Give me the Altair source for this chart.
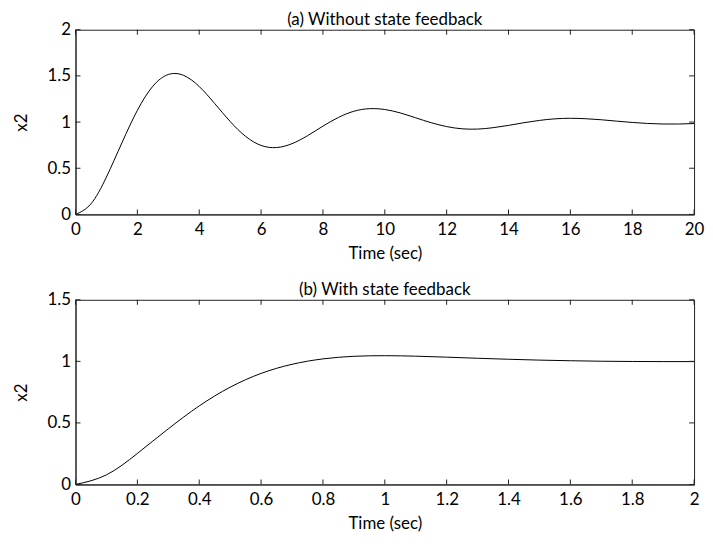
import altair as alt
import pandas as pd

FONT = "Lato"
FS = 17
W, H = 623, 186

# (a) Without state feedback
t_a = [0, 0.5, 1, 1.5, 2, 2.5, 3, 3.5, 4, 4.5, 5, 5.5, 6, 6.5, 7, 7.5, 8, 8.5, 9, 9.5, 10,
       10.5, 11, 11.5, 12, 12.5, 13, 13.5, 14, 14.5, 15, 15.5, 16, 16.5, 17, 17.5, 18, 18.5, 19, 19.5, 20]
x2_a = [0.000, 0.115, 0.405, 0.775, 1.127, 1.388, 1.515, 1.505, 1.385, 1.201, 1.006,
        0.845, 0.747, 0.724, 0.766, 0.852, 0.956, 1.050, 1.117, 1.145, 1.136,
        1.099, 1.046, 0.993, 0.951, 0.927, 0.924, 0.939, 0.964, 0.993, 1.018,
        1.035, 1.041, 1.036, 1.025, 1.010, 0.996, 0.985, 0.979, 0.979, 0.984]
xticks_a = [0, 2, 4, 6, 8, 10, 12, 14, 16, 18, 20]
yticks_a = [0, 0.5, 1, 1.5, 2]

# (b) With state feedback
t_b = [0, 0.1, 0.2, 0.3, 0.4, 0.5, 0.6, 0.7, 0.8, 0.9, 1.0, 1.1, 1.2, 1.3, 1.4, 1.5, 1.6, 1.7, 1.8, 1.9, 2.0]
x2_b = [0.000, 0.078, 0.252, 0.452, 0.638, 0.790, 0.902, 0.976, 1.020, 1.041, 1.046,
        1.042, 1.034, 1.025, 1.017, 1.010, 1.005, 1.001, 0.999, 0.998, 0.998]
xticks_b = [0, 0.2, 0.4, 0.6, 0.8, 1, 1.2, 1.4, 1.6, 1.8, 2]
yticks_b = [0, 0.5, 1, 1.5]

TICK = 5
INK = "#222222"


def panel(t, x, xticks, yticks, title):
    df = pd.DataFrame({"t": t, "x2": x})
    xt = pd.DataFrame({"t": xticks})
    yt = pd.DataFrame({"x2": yticks})
    xs = alt.Scale(domain=[xticks[0], xticks[-1]], nice=False, zero=False)
    ys = alt.Scale(domain=[yticks[0], yticks[-1]], nice=False, zero=False)
    xax = alt.Axis(values=xticks, title="Time (sec)", format="~g",
                   ticks=False, tickSize=0, labelPadding=7, titlePadding=8,
                   labelFlush=False, labelOverlap=False, grid=False)
    yax = alt.Axis(values=yticks, title="x2", format="~g",
                   ticks=False, tickSize=0, labelPadding=5, titlePadding=17,
                   labelFlush=False, labelOverlap=False, grid=False)
    X = alt.X("t:Q", scale=xs, axis=xax, title="Time (sec)")
    Y = alt.Y("x2:Q", scale=ys, axis=yax, title="x2")
    line = alt.Chart(df).mark_line(color="black", strokeWidth=1, interpolate="natural").encode(x=X, y=Y)
    bot = alt.Chart(xt).mark_rule(color=INK, strokeWidth=1).encode(
        x=X, y=alt.value(H), y2=alt.value(H - TICK))
    top = alt.Chart(xt).mark_rule(color=INK, strokeWidth=1).encode(
        x=X, y=alt.value(0), y2=alt.value(TICK))
    lft = alt.Chart(yt).mark_rule(color=INK, strokeWidth=1).encode(
        y=Y, x=alt.value(0), x2=alt.value(TICK))
    rgt = alt.Chart(yt).mark_rule(color=INK, strokeWidth=1).encode(
        y=Y, x=alt.value(W - TICK), x2=alt.value(W))
    return alt.layer(line, bot, top, lft, rgt).properties(
        width=W, height=H,
        title=alt.Title(title, fontSize=FS, font=FONT, fontWeight="normal", color="black",
                        offset=-8, anchor="middle"),
    )


chart = alt.vconcat(
    panel(t_a, x2_a, xticks_a, yticks_a, "(a) Without state feedback"),
    panel(t_b, x2_b, xticks_b, yticks_b, "(b) With state feedback"),
    spacing=18,
).properties(
    padding={"left": 3, "top": 0, "right": 0, "bottom": 0},
    background="white",
).configure_view(
    stroke=INK, strokeWidth=1
).configure_axis(
    labelFont=FONT, titleFont=FONT, labelFontSize=FS, titleFontSize=FS,
    labelColor="black", titleColor="black", titleFontWeight="normal",
    domainColor=INK, domainWidth=1,
)

chart.save("out.html", embed_options={"renderer": "svg", "actions": False})
